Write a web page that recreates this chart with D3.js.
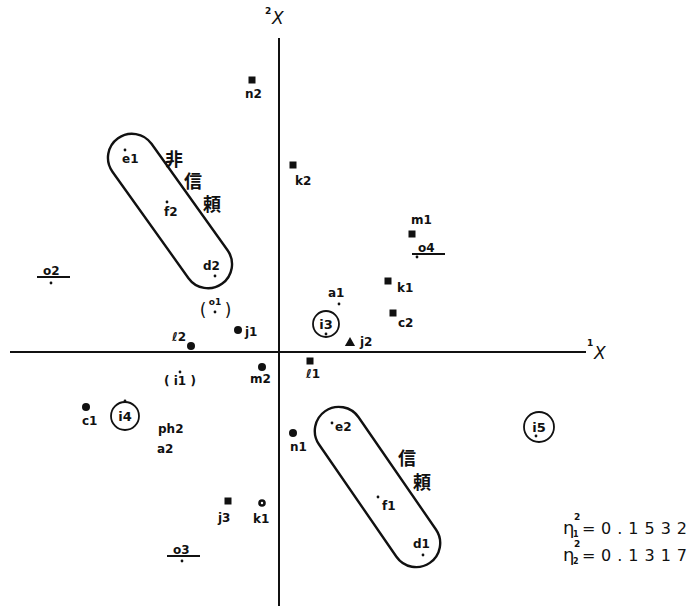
<!DOCTYPE html>
<html>
<head>
<meta charset="utf-8">
<script src="https://cdn.jsdelivr.net/npm/d3@7/dist/d3.min.js"></script>
<style>
  body { margin: 0; background: #fff; }
  svg { display: block; }
  text { font-family: "DejaVu Sans", sans-serif; fill: #111; }
</style>
</head>
<body>
<div id="chart"></div>
<script>
// category scores on axis 1 and axis 2
const labels = ["n2", "k2", "e1", "f2", "d2", "m1", "o4", "k1", "c2", "a1",
  "i3", "j2", "ℓ1", "o1", "j1", "ℓ2", "m2", "i1", "c1", "i4",
  "ph2", "a2", "n1", "e2", "f1", "d1", "i5", "j3", "k1", "o2", "o3"];
const xValues = [-0.27, 0.14, -1.54, -1.12, -0.64, 1.33, 1.38, 1.09, 1.14, 0.60,
  0.47, 0.71, 0.31, -0.64, -0.41, -0.88, -0.17, -0.99, -1.93, -1.54,
  -1.17, -1.17, 0.14, 0.53, 0.99, 1.44, 2.57, -0.51, -0.17, -2.28, -0.97];
const yValues = [2.72, 1.87, 2.02, 1.50, 0.76, 1.18, 0.95, 0.71, 0.39, 0.48,
  0.18, 0.09, -0.09, 0.40, 0.22, 0.06, -0.15, -0.20, -0.55, -0.49,
  -0.81, -0.81, -0.81, -0.71, -1.45, -2.03, -0.84, -1.49, -1.51, 0.69, -2.09];
const markers = ["square", "square", "dot", "dot", "dot", "square", "dot", "square", "square", "dot",
  "dot", "triangle", "square", "dot", "circle", "circle", "circle", "dot", "circle", "dot",
  "none", "none", "circle", "dot", "dot", "dot", "dot", "square", "ring", "dot", "dot"];
const labelKinds = ["plain", "plain", "plain", "plain", "plain", "plain", "under", "plain", "plain", "plain",
  "circled", "plain", "plain", "paren", "plain", "plain", "plain", "paren", "plain", "circled",
  "plain", "plain", "plain", "plain", "plain", "plain", "circled", "plain", "plain", "under", "under"];

const groups = [[2, 3, 4], [23, 24, 25]];
const groupNotes = [
  { text: "非", x: -1.05, y: 1.93 }, { text: "信", x: -0.86, y: 1.71 }, { text: "頼", x: -0.67, y: 1.48 },
  { text: "信", x: 1.28, y: -1.06 }, { text: "頼", x: 1.43, y: -1.30 }
];
const etaValues = ["0.1532", "0.1317"];

// label offsets in px from the mark
const labelOffset = [[-7, 18], [2, 20], [-3, 13], [-3, 14], [-12, -6], [-1, -10], [1, -5], [9, 11], [5, 14], [-11, -7],
  [0, -5], [10, 3], [-4, 17], [0, -7], [7, 6], [-19, -5], [-12, 16], [0, 13], [-4, 18], [0, 20],
  [-4, 0], [-5, 20], [-3, 18], [3, 8], [4, 13], [-10, -7], [3, -5], [-10, 21], [-9, 20], [-8, -8], [-9, -7]];
const ringOffset = { 10: [0, -10, 13], 19: [0, 15, 14], 26: [3, -9, 15] };

const W = 696, H = 607;
const svg = d3.select("#chart").append("svg").attr("width", W).attr("height", H);

const x = d3.scaleLinear().domain([-2.69, 3.07]).range([10, 586]);
const y = d3.scaleLinear().domain([-2.54, 3.14]).range([606, 38]);

// axes
svg.append("line").attr("x1", x(-2.69)).attr("x2", x(3.07)).attr("y1", y(0)).attr("y2", y(0))
  .attr("stroke", "#111").attr("stroke-width", 2);
svg.append("line").attr("x1", x(0)).attr("x2", x(0)).attr("y1", y(3.14)).attr("y2", y(-2.54))
  .attr("stroke", "#111").attr("stroke-width", 2);

svg.append("text").attr("x", 265).attr("y", 14).style("font-size", "9px").style("font-weight", "bold").text("2");
svg.append("text").attr("x", 272).attr("y", 24).style("font-size", "17px").style("font-style", "italic").text("X");
svg.append("text").attr("x", 587).attr("y", 346).style("font-size", "9px").style("font-weight", "bold").text("1");
svg.append("text").attr("x", 594).attr("y", 359).style("font-size", "17px").style("font-style", "italic").text("X");

// group capsules
groups.forEach(gr => {
  const a = gr[0], b = gr[gr.length - 1];
  const x1 = x(xValues[a]), y1 = y(yValues[a]), x2 = x(xValues[b]), y2 = y(yValues[b]);
  const len = Math.hypot(x2 - x1, y2 - y1) + 24;
  const ang = Math.atan2(y2 - y1, x2 - x1) * 180 / Math.PI;
  const cx = (x1 + x2) / 2, cy = (y1 + y2) / 2 - 2;
  svg.append("rect")
    .attr("x", -len / 2).attr("y", -24).attr("width", len).attr("height", 48)
    .attr("rx", 24).attr("ry", 24)
    .attr("transform", `translate(${cx},${cy}) rotate(${ang})`)
    .attr("fill", "none").attr("stroke", "#111").attr("stroke-width", 2.4);
});

svg.selectAll(".note")
  .data(groupNotes)
  .enter()
  .append("text")
  .attr("class", "note")
  .attr("x", d => x(d.x)).attr("y", d => y(d.y) + 7)
  .attr("text-anchor", "middle")
  .style("font-family", "'Noto Sans CJK JP', sans-serif")
  .style("font-size", "18px").style("font-weight", "bold")
  .text(d => d.text);

// marks
const pts = labels.map((l, i) => ({ i, label: l, px: x(xValues[i]), py: y(yValues[i]), marker: markers[i], kind: labelKinds[i] }));

pts.forEach(d => {
  if (d.marker === "square") {
    svg.append("rect").attr("x", d.px - 3.5).attr("y", d.py - 3.5).attr("width", 7).attr("height", 7).attr("fill", "#111");
  } else if (d.marker === "circle") {
    svg.append("circle").attr("cx", d.px).attr("cy", d.py).attr("r", 4).attr("fill", "#111");
  } else if (d.marker === "ring") {
    svg.append("circle").attr("cx", d.px).attr("cy", d.py).attr("r", 3.8).attr("fill", "#111");
    svg.append("circle").attr("cx", d.px).attr("cy", d.py).attr("r", 1.2).attr("fill", "#fff");
  } else if (d.marker === "triangle") {
    svg.append("path").attr("d", d3.symbol().type(d3.symbolTriangle).size(45)())
      .attr("transform", `translate(${d.px},${d.py})`).attr("fill", "#111");
  } else if (d.marker === "dot") {
    svg.append("circle").attr("cx", d.px).attr("cy", d.py).attr("r", 1.4).attr("fill", "#111");
  }
});

// labels
pts.forEach(d => {
  const off = labelOffset[d.i];
  const lx = d.px + off[0], ly = d.py + off[1];
  if (d.kind === "plain" || d.kind === "under") {
    svg.append("text").attr("x", lx).attr("y", ly)
      .style("font-size", "12px").style("font-weight", "bold").text(d.label);
    if (d.kind === "under") {
      svg.append("line").attr("x1", lx - 6).attr("x2", lx + 27).attr("y1", ly + 2).attr("y2", ly + 2)
        .attr("stroke", "#111").attr("stroke-width", 1.8);
    }
  } else if (d.kind === "circled") {
    const r = ringOffset[d.i];
    svg.append("circle").attr("cx", d.px + r[0]).attr("cy", d.py + r[1]).attr("r", r[2])
      .attr("fill", "none").attr("stroke", "#111").attr("stroke-width", 1.8);
    svg.append("text").attr("x", d.px + r[0]).attr("y", d.py + r[1] + 5).attr("text-anchor", "middle")
      .style("font-size", "13px").style("font-weight", "bold").text(d.label);
  } else if (d.kind === "paren") {
    if (d.label === "o1") {
      svg.append("text").attr("x", lx).attr("y", ly).attr("text-anchor", "middle")
        .style("font-size", "9px").style("font-weight", "bold").text(d.label);
      svg.append("text").attr("x", d.px - 12).attr("y", d.py + 4).attr("text-anchor", "middle")
        .style("font-size", "17px").text("(");
      svg.append("text").attr("x", d.px + 13).attr("y", d.py + 4).attr("text-anchor", "middle")
        .style("font-size", "17px").text(")");
    } else {
      svg.append("text").attr("x", lx).attr("y", ly).attr("text-anchor", "middle")
        .style("font-size", "12px").style("font-weight", "bold").text("( " + d.label + " )");
    }
  }
});

// correlation ratios
etaValues.forEach((v, k) => {
  const by = 534 + k * 27;
  svg.append("text").attr("x", 563).attr("y", by).style("font-size", "18px").text("η");
  svg.append("text").attr("x", 574).attr("y", by - 14).style("font-size", "9px").style("font-weight", "bold").text("2");
  svg.append("text").attr("x", 573).attr("y", by + 3).style("font-size", "8px").style("font-weight", "bold").text(String(k + 1));
  svg.append("text").attr("x", 582).attr("y", by).style("font-size", "16px").text("=");
  svg.append("text").attr("x", 601).attr("y", by).style("font-size", "16px").style("letter-spacing", "6px")
    .text(v);
});
</script>
</body>
</html>
